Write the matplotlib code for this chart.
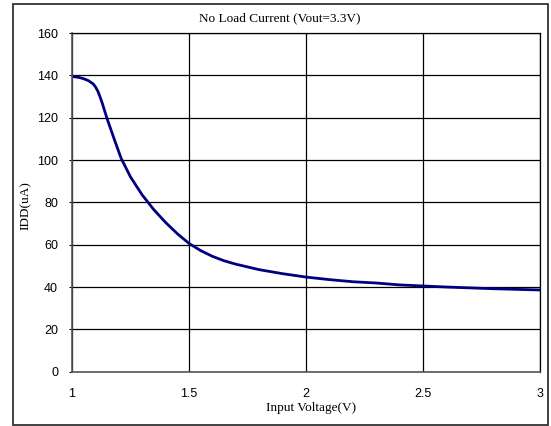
import matplotlib
matplotlib.use("Agg")
import matplotlib.pyplot as plt
from matplotlib.patches import Rectangle

# data
voltage = [1.0, 1.03, 1.05, 1.07, 1.09, 1.10, 1.11, 1.12, 1.13, 1.15, 1.18, 1.21,
           1.25, 1.30, 1.35, 1.40, 1.45, 1.50, 1.55, 1.60, 1.65, 1.70, 1.80,
           1.90, 2.00, 2.10, 2.20, 2.30, 2.40, 2.50, 2.60, 2.70, 2.80, 2.90, 3.00]
idd = [139.5, 139.0, 138.4, 137.5, 136.0, 134.6, 132.6, 129.8, 126.6, 119.5, 110.0, 100.8,
       92.0, 83.5, 76.5, 70.5, 65.2, 60.6, 57.2, 54.5, 52.4, 50.8, 48.2,
       46.3, 44.7, 43.5, 42.5, 41.9, 41.0, 40.5, 40.0, 39.6, 39.2, 38.9, 38.6]

x_ticks = [1, 1.5, 2, 2.5, 3]
x_labels = ["1", "1.5", "2", "2.5", "3"]
y_ticks = [0, 20, 40, 60, 80, 100, 120, 140, 160]

W, H = 551, 426
fig = plt.figure(figsize=(W / 100, H / 100), dpi=100)
ax = fig.add_axes([72 / W, 54.3 / H, 468 / W, 338.7 / H])

ax.plot(voltage, idd, color="#000080", linewidth=2.0, solid_capstyle="round")

ax.set_xlim(1, 3)
ax.set_ylim(0, 160)
ax.set_xticks(x_ticks)
ax.set_xticklabels(x_labels)
ax.set_yticks(y_ticks)
ax.grid(True, color="black", linewidth=0.9)
ax.set_axisbelow(True)

for lbl in ax.get_xticklabels() + ax.get_yticklabels():
    lbl.set_fontfamily("Liberation Sans")
    lbl.set_fontsize(9)
ax.tick_params(axis="x", length=0, pad=12)
ax.tick_params(axis="y", length=2, pad=8)

for side in ["left", "bottom"]:
    ax.spines[side].set_color("#555555")
    ax.spines[side].set_linewidth(1.2)
for side in ["top", "right"]:
    ax.spines[side].set_color("black")
    ax.spines[side].set_linewidth(0.9)

serif = dict(fontfamily="Liberation Serif", fontsize=9.5, ha="center", va="center")
fig.text(280 / W, 1 - 18 / H, "No Load Current (Vout=3.3V)", **serif)
fig.text(311 / W, 1 - 408 / H, "Input Voltage(V)", **serif)
fig.text(26 / W, 1 - 206 / H, "IDD(uA)", rotation=90, **serif)

# outer frame of the chart
fig.patches.append(Rectangle((13 / W, 1.5 / H), 535 / W, 420.5 / H,
                             transform=fig.transFigure, fill=False,
                             edgecolor="#333333", linewidth=1.3))

fig.savefig("out.png", dpi=100)
